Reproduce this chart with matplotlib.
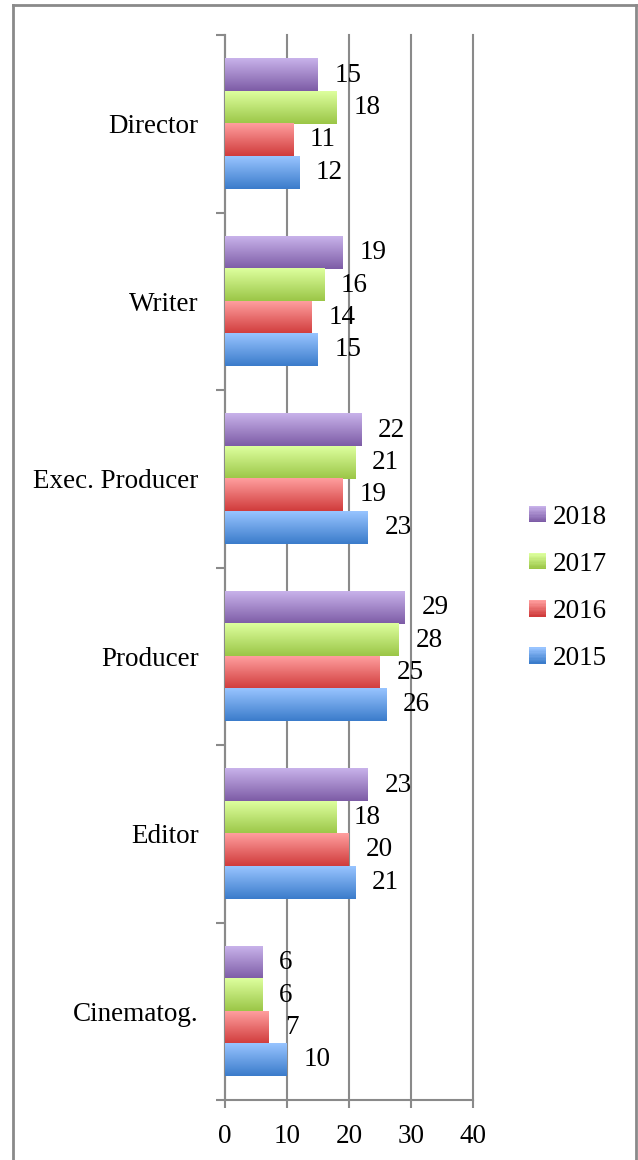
import matplotlib
matplotlib.use("Agg")
import matplotlib.pyplot as plt
import numpy as np
from matplotlib.colors import to_rgb
from matplotlib.legend_handler import HandlerBase
from matplotlib.patches import Rectangle, Patch
from matplotlib.lines import Line2D

# data
roles = ["Director", "Writer", "Exec. Producer", "Producer", "Editor", "Cinematog."]
years = ["2018", "2017", "2016", "2015"]
values = {
    "2018": [15, 19, 22, 29, 23, 6],
    "2017": [18, 16, 21, 28, 18, 6],
    "2016": [11, 14, 19, 25, 20, 7],
    "2015": [12, 15, 23, 26, 21, 10],
}
# (light top, dark bottom)
shades = {
    "2018": ("#c8b2ea", "#7d5ca6"),
    "2017": ("#ddff9e", "#9bc647"),
    "2016": ("#ff9e9e", "#d03c3c"),
    "2015": ("#98c4ff", "#3b7ccb"),
}

plt.rcParams["font.family"] = ["Liberation Serif", "DejaVu Serif"]
fs = 19.5
plt.rcParams["font.size"] = fs
grey = "#8a8a8a"


def gradient(top, bottom, n=64):
    t = np.linspace(0, 1, n)[:, None]
    a = np.array(to_rgb(top))
    b = np.array(to_rgb(bottom))
    return (a * (1 - t) + b * t)[:, None, :]


class HandlerGradient(HandlerBase):
    def create_artists(self, legend, orig_handle, xdescent, ydescent,
                       width, height, fontsize, trans):
        top, bottom = orig_handle.shade
        cols = gradient(top, bottom, 12)[:, 0, :]
        side = height
        x0 = -xdescent + (width - side) / 2
        out = []
        for i, c in enumerate(cols):
            y = -ydescent + side * (1 - (i + 1) / len(cols))
            out.append(Rectangle((x0, y), side, side / len(cols) + 0.2,
                                 facecolor=c, edgecolor="none", transform=trans))
        return out


fig = plt.figure(figsize=(6.38, 11.6), dpi=100)
ax = fig.add_axes([225 / 638, 1 - 1100 / 1160, 248 / 638, 1065 / 1160])

pos = np.arange(len(roles))
h = 0.183
offsets = [-1.5 * h, -0.5 * h, 0.5 * h, 1.5 * h]

for yr, off in zip(years, offsets):
    bars = ax.barh(pos + off, values[yr], height=h, color=shades[yr][1],
                   edgecolor="none", zorder=2)
    img = gradient(*shades[yr])
    for b, v in zip(bars, values[yr]):
        x0, y0, w, hh = b.get_x(), b.get_y(), b.get_width(), b.get_height()
        ax.imshow(img, extent=(x0, x0 + w, y0 + hh, y0), origin="upper",
                  aspect="auto", zorder=3, interpolation="bilinear")
        ax.annotate(str(v), (x0 + w, y0 + hh / 2), xytext=(12, 0),
                    textcoords="offset points", ha="left", va="center",
                    fontsize=fs, zorder=4)

ax.set_xlim(0, 40)
ax.set_ylim(len(roles) - 0.5, -0.5)
ax.set_xticks([0, 10, 20, 30, 40])
ax.set_yticks(pos)
ax.set_yticklabels(roles)
ax.set_yticks(np.arange(-0.5, len(roles)), minor=True)
ax.tick_params(axis="y", which="major", length=0, pad=19)
ax.tick_params(axis="y", which="minor", length=6.5, width=1.5, color=grey, direction="out")
ax.tick_params(axis="x", length=6, width=1.5, color=grey, direction="out", pad=11)
ax.xaxis.grid(True, color=grey, linewidth=1.5, zorder=1)
for gl in ax.get_xgridlines():
    gl.set_clip_on(False)
ax.set_axisbelow(True)
for s in ["top", "right"]:
    ax.spines[s].set_visible(False)
for s in ["left", "bottom"]:
    ax.spines[s].set_color(grey)
    ax.spines[s].set_linewidth(1.5)
ax.spines["bottom"].set_bounds(0, 40)

handles = []
for yr in years:
    p = Patch(label=yr)
    p.shade = shades[yr]
    handles.append(p)
fig.legend(handles=handles, loc="center left", bbox_to_anchor=(530 / 638, 1 - 588 / 1160),
           frameon=False, fontsize=fs, handlelength=0.55, handleheight=0.55,
           handletextpad=0.3, labelspacing=0.82, borderpad=0, borderaxespad=0,
           handler_map={Patch: HandlerGradient()})

# outer border
fig.add_artist(Line2D([13 / 638, 13 / 638], [0, 1 - 5 / 1160], color=grey, lw=2))
fig.add_artist(Line2D([13 / 638, 636 / 638], [1 - 5 / 1160, 1 - 5 / 1160], color=grey, lw=2))
fig.add_artist(Line2D([636 / 638, 636 / 638], [0, 1 - 5 / 1160], color=grey, lw=2))

fig.savefig("out.png", dpi=100)
